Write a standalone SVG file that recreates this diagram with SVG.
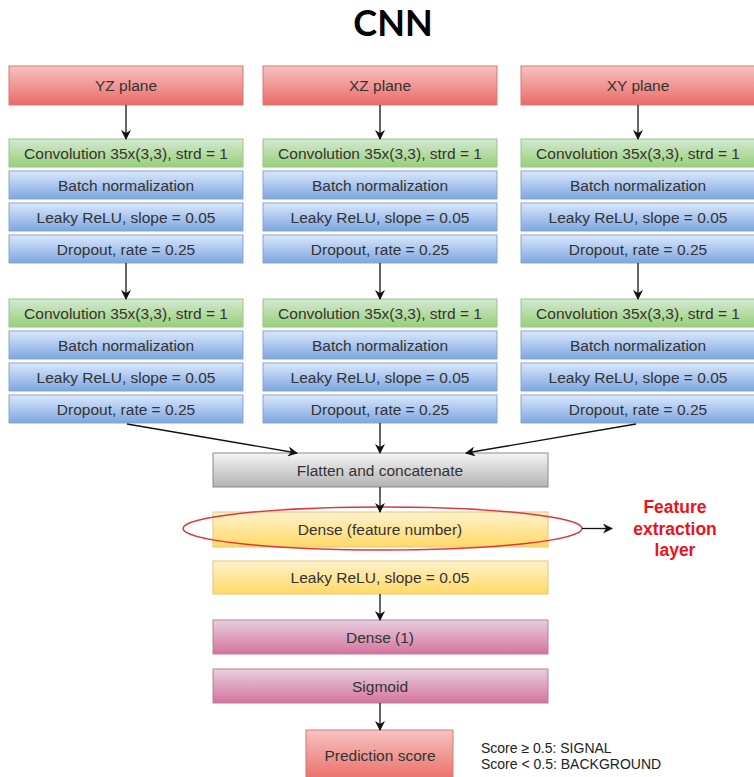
<svg xmlns="http://www.w3.org/2000/svg" width="754" height="777" viewBox="0 0 754 777">
<style>
  text { font-family: "Liberation Sans", Arial, sans-serif; fill: #333333; }
  .t { font-size: 15.5px; text-anchor: middle; }
  .title { font-family: Lato, "Liberation Sans", sans-serif; font-weight: bold; font-size: 36px; fill: #000; text-anchor: middle; }
  .red { fill: url(#gRed); stroke: #d27a77; stroke-width: 1; }
  .green { fill: url(#gGreen); stroke: #9cc287; stroke-width: 1; }
  .blue { fill: url(#gBlue); stroke: #86a5d3; stroke-width: 1; }
  .gray { fill: url(#gGray); stroke: #8a8a8a; stroke-width: 1; }
  .yellow { fill: url(#gYellow); stroke: #e0c77a; stroke-width: 1; }
  .pink { fill: url(#gPink); stroke: #b5809f; stroke-width: 1; }
  .conn { stroke: #111; stroke-width: 1.3; fill: none; marker-end: url(#arr); }
  .fe { font-size: 17.5px; font-weight: bold; fill: #e8141c; text-anchor: middle; }
  .note { font-size: 14px; fill: #222; }
</style>
<defs>
  <linearGradient id="gRed" x1="0" y1="0" x2="0" y2="1"><stop offset="0" stop-color="#f6c3c1"/><stop offset="1" stop-color="#ea6b66"/></linearGradient>
  <linearGradient id="gGreen" x1="0" y1="0" x2="0" y2="1"><stop offset="0" stop-color="#d5e8d4"/><stop offset="1" stop-color="#97d077"/></linearGradient>
  <linearGradient id="gBlue" x1="0" y1="0" x2="0" y2="1"><stop offset="0" stop-color="#dae8fc"/><stop offset="1" stop-color="#7ea6e0"/></linearGradient>
  <linearGradient id="gGray" x1="0" y1="0" x2="0" y2="1"><stop offset="0" stop-color="#f5f5f5"/><stop offset="1" stop-color="#b3b3b3"/></linearGradient>
  <linearGradient id="gYellow" x1="0" y1="0" x2="0" y2="1"><stop offset="0" stop-color="#fff2cc"/><stop offset="1" stop-color="#ffd966"/></linearGradient>
  <linearGradient id="gPink" x1="0" y1="0" x2="0" y2="1"><stop offset="0" stop-color="#e6d0de"/><stop offset="1" stop-color="#d5739d"/></linearGradient>
  <marker id="arr" viewBox="0 0 10 10" refX="9" refY="5" markerWidth="10" markerHeight="10" markerUnits="userSpaceOnUse" orient="auto">
    <path d="M0,0 L10,5 L0,10 L3,5 Z" fill="#111"/>
  </marker>
</defs>

<text class="title" x="393" y="36">CNN</text>

<!-- Column YZ -->
<g id="yz-plane"><rect class="red" x="9" y="66" width="234" height="39"/><text class="t" x="126" y="91">YZ plane</text></g>
<g id="yz-conv1"><rect class="green" x="9" y="139" width="234" height="28"/><text class="t" x="126" y="158.5">Convolution 35x(3,3), strd = 1</text></g>
<g id="yz-bn1"><rect class="blue" x="9" y="171" width="234" height="28"/><text class="t" x="126" y="190.5">Batch normalization</text></g>
<g id="yz-relu1"><rect class="blue" x="9" y="203" width="234" height="28"/><text class="t" x="126" y="222.5">Leaky ReLU, slope = 0.05</text></g>
<g id="yz-drop1"><rect class="blue" x="9" y="235" width="234" height="28"/><text class="t" x="126" y="254.5">Dropout, rate = 0.25</text></g>
<g id="yz-conv2"><rect class="green" x="9" y="299" width="234" height="28"/><text class="t" x="126" y="318.5">Convolution 35x(3,3), strd = 1</text></g>
<g id="yz-bn2"><rect class="blue" x="9" y="331" width="234" height="28"/><text class="t" x="126" y="350.5">Batch normalization</text></g>
<g id="yz-relu2"><rect class="blue" x="9" y="363" width="234" height="28"/><text class="t" x="126" y="382.5">Leaky ReLU, slope = 0.05</text></g>
<g id="yz-drop2"><rect class="blue" x="9" y="395" width="234" height="28"/><text class="t" x="126" y="414.5">Dropout, rate = 0.25</text></g>

<!-- Column XZ -->
<g id="xz-plane"><rect class="red" x="263" y="66" width="234" height="39"/><text class="t" x="380" y="91">XZ plane</text></g>
<g id="xz-conv1"><rect class="green" x="263" y="139" width="234" height="28"/><text class="t" x="380" y="158.5">Convolution 35x(3,3), strd = 1</text></g>
<g id="xz-bn1"><rect class="blue" x="263" y="171" width="234" height="28"/><text class="t" x="380" y="190.5">Batch normalization</text></g>
<g id="xz-relu1"><rect class="blue" x="263" y="203" width="234" height="28"/><text class="t" x="380" y="222.5">Leaky ReLU, slope = 0.05</text></g>
<g id="xz-drop1"><rect class="blue" x="263" y="235" width="234" height="28"/><text class="t" x="380" y="254.5">Dropout, rate = 0.25</text></g>
<g id="xz-conv2"><rect class="green" x="263" y="299" width="234" height="28"/><text class="t" x="380" y="318.5">Convolution 35x(3,3), strd = 1</text></g>
<g id="xz-bn2"><rect class="blue" x="263" y="331" width="234" height="28"/><text class="t" x="380" y="350.5">Batch normalization</text></g>
<g id="xz-relu2"><rect class="blue" x="263" y="363" width="234" height="28"/><text class="t" x="380" y="382.5">Leaky ReLU, slope = 0.05</text></g>
<g id="xz-drop2"><rect class="blue" x="263" y="395" width="234" height="28"/><text class="t" x="380" y="414.5">Dropout, rate = 0.25</text></g>

<!-- Column XY -->
<g id="xy-plane"><rect class="red" x="521" y="66" width="234" height="39"/><text class="t" x="638" y="91">XY plane</text></g>
<g id="xy-conv1"><rect class="green" x="521" y="139" width="234" height="28"/><text class="t" x="638" y="158.5">Convolution 35x(3,3), strd = 1</text></g>
<g id="xy-bn1"><rect class="blue" x="521" y="171" width="234" height="28"/><text class="t" x="638" y="190.5">Batch normalization</text></g>
<g id="xy-relu1"><rect class="blue" x="521" y="203" width="234" height="28"/><text class="t" x="638" y="222.5">Leaky ReLU, slope = 0.05</text></g>
<g id="xy-drop1"><rect class="blue" x="521" y="235" width="234" height="28"/><text class="t" x="638" y="254.5">Dropout, rate = 0.25</text></g>
<g id="xy-conv2"><rect class="green" x="521" y="299" width="234" height="28"/><text class="t" x="638" y="318.5">Convolution 35x(3,3), strd = 1</text></g>
<g id="xy-bn2"><rect class="blue" x="521" y="331" width="234" height="28"/><text class="t" x="638" y="350.5">Batch normalization</text></g>
<g id="xy-relu2"><rect class="blue" x="521" y="363" width="234" height="28"/><text class="t" x="638" y="382.5">Leaky ReLU, slope = 0.05</text></g>
<g id="xy-drop2"><rect class="blue" x="521" y="395" width="234" height="28"/><text class="t" x="638" y="414.5">Dropout, rate = 0.25</text></g>

<!-- Merged -->
<g id="flatten"><rect class="gray" x="213" y="453" width="335" height="34"/><text class="t" x="380" y="475.5">Flatten and concatenate</text></g>
<g id="dense-feature"><rect class="yellow" x="213" y="512" width="335" height="35"/><text class="t" x="380" y="535">Dense (feature number)</text></g>
<g id="leaky-dense"><rect class="yellow" x="213" y="561" width="335" height="33"/><text class="t" x="380" y="583">Leaky ReLU, slope = 0.05</text></g>
<g id="dense1"><rect class="pink" x="213" y="620" width="335" height="34"/><text class="t" x="380" y="642.5">Dense (1)</text></g>
<g id="sigmoid"><rect class="pink" x="213" y="669" width="335" height="34"/><text class="t" x="380" y="691.5">Sigmoid</text></g>
<g id="prediction"><rect class="red" x="306" y="730" width="147" height="52"/><text class="t" x="380" y="761">Prediction score</text></g>

<g id="feature-highlight">
  <ellipse cx="382.5" cy="528.5" rx="199.5" ry="21.5" fill="none" stroke="#e0383a" stroke-width="1.5"/>
</g>
<g id="feature-label">
  <text class="fe" x="675" y="513">Feature</text>
  <text class="fe" x="675" y="535">extraction</text>
  <text class="fe" x="675" y="556">layer</text>
</g>
<g id="score-note">
  <text class="note" x="481" y="753">Score ≥ 0.5: SIGNAL</text>
  <text class="note" x="481" y="769">Score &lt; 0.5: BACKGROUND</text>
</g>

<g id="connectors">
  <line class="conn" x1="126" y1="105" x2="126" y2="139"/>
  <line class="conn" x1="380" y1="105" x2="380" y2="139"/>
  <line class="conn" x1="638" y1="105" x2="638" y2="139"/>
  <line class="conn" x1="126" y1="263" x2="126" y2="299"/>
  <line class="conn" x1="380" y1="263" x2="380" y2="299"/>
  <line class="conn" x1="638" y1="263" x2="638" y2="299"/>
  <line class="conn" x1="127" y1="424" x2="297" y2="453"/>
  <line class="conn" x1="380" y1="423" x2="380" y2="453"/>
  <line class="conn" x1="636" y1="424" x2="466" y2="453"/>
  <line class="conn" x1="380" y1="487" x2="380" y2="512"/>
  <line class="conn" x1="582" y1="528.5" x2="612" y2="528.5"/>
  <line class="conn" x1="380" y1="594" x2="380" y2="620"/>
  <line class="conn" x1="380" y1="703" x2="380" y2="730"/>
</g>
</svg>
